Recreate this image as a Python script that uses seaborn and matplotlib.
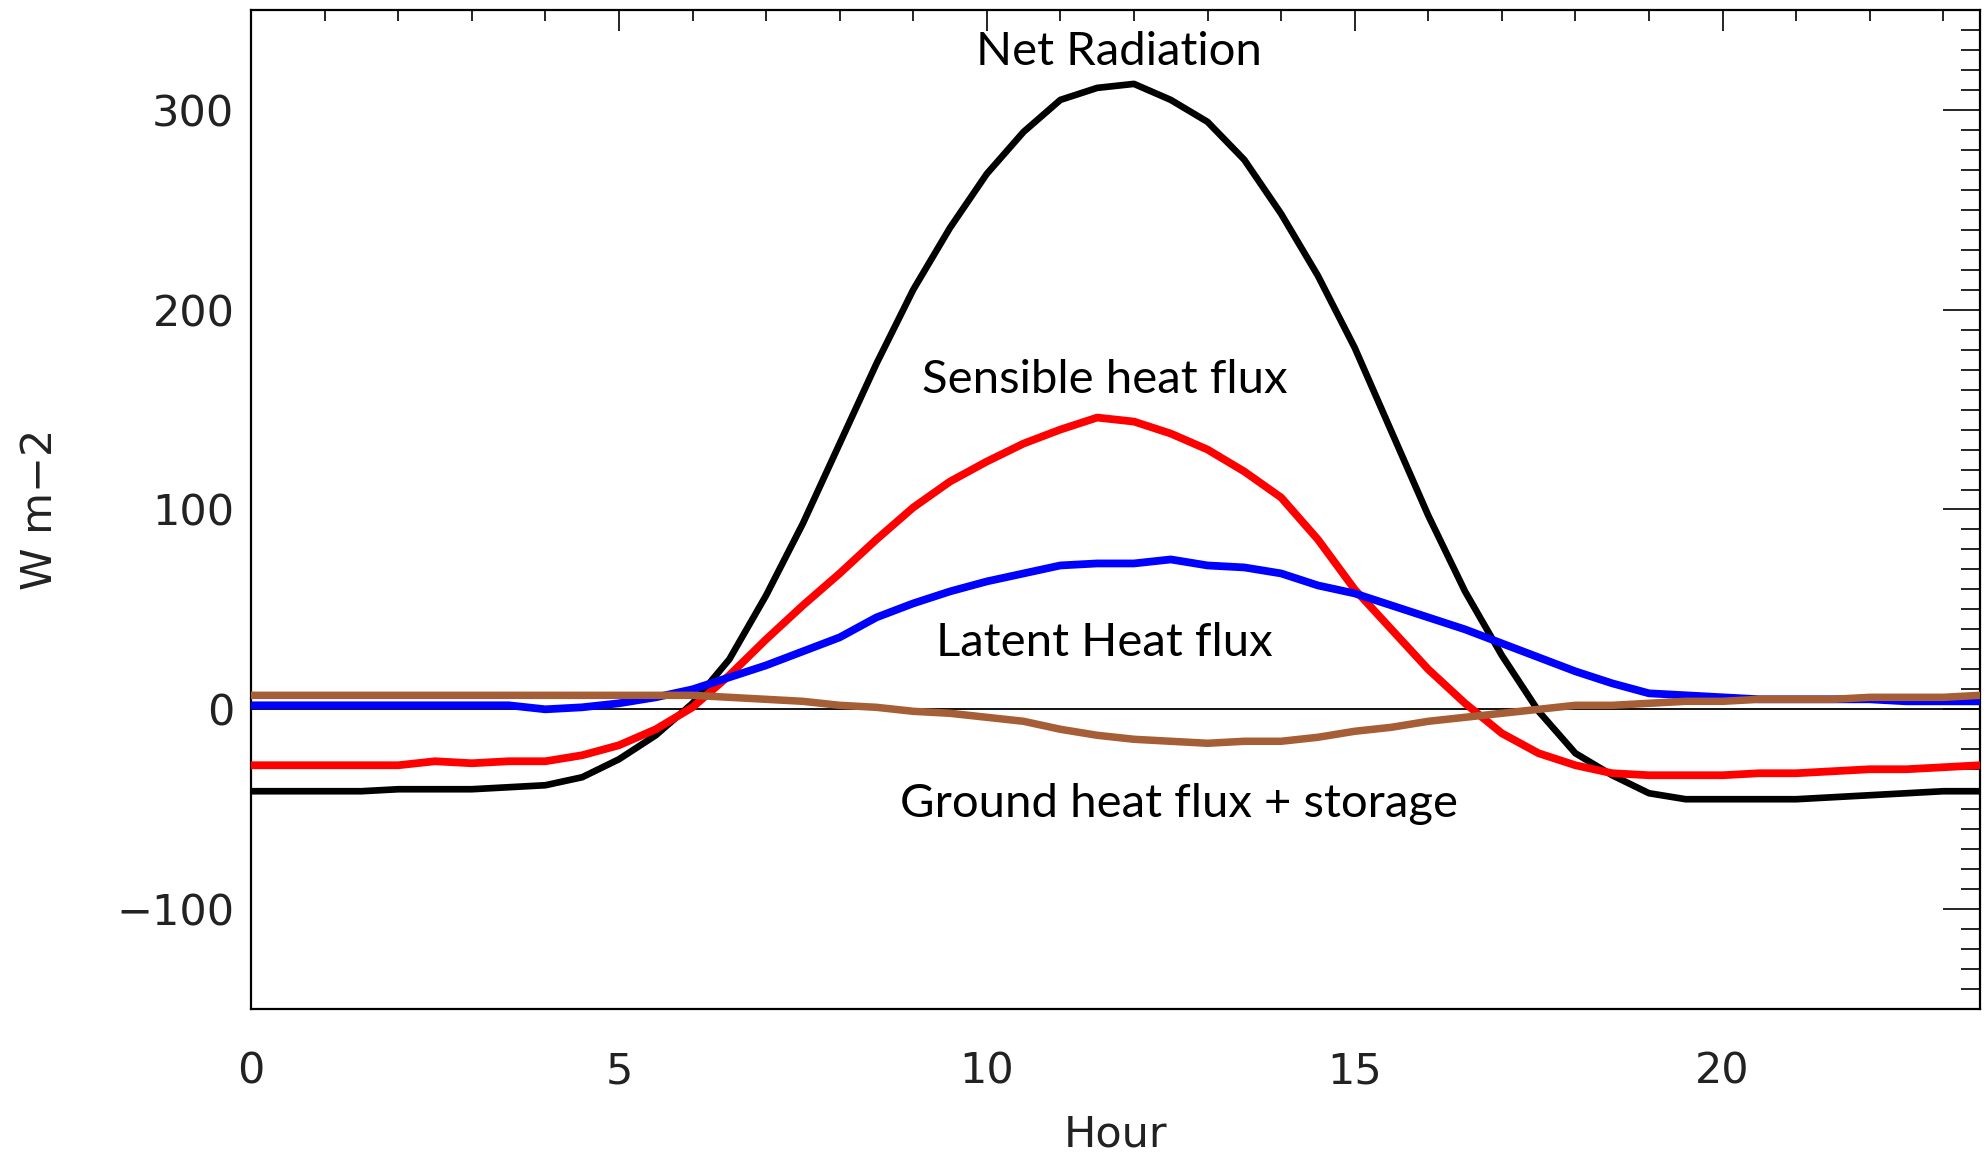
import numpy as np
import pandas as pd
import matplotlib
matplotlib.use("Agg")
import matplotlib.pyplot as plt
from matplotlib.ticker import MultipleLocator
import seaborn as sns

# ---- data (half-hourly) ----
hours = [h * 0.5 for h in range(48)]

net_radiation = [-41, -41, -41, -41, -40, -40, -40, -39, -38, -34,
                 -25, -13, 3, 25, 57, 93, 133, 173, 210, 241,
                 268, 289, 305, 311, 313, 305, 294, 275, 248, 217,
                 181, 139, 97, 59, 27, -1, -22, -33, -42, -45,
                 -45, -45, -45, -44, -43, -42, -41, -41]

sensible_heat = [-28, -28, -28, -28, -28, -26, -27, -26, -26, -23,
                 -18, -10, 1, 17, 35, 52, 68, 85, 101, 114,
                 124, 133, 140, 146, 144, 138, 130, 119, 106, 85,
                 60, 40, 20, 3, -12, -22, -28, -32, -33, -33,
                 -33, -32, -32, -31, -30, -30, -29, -28]

latent_heat = [2, 2, 2, 2, 2, 2, 2, 2, 0, 1,
               3, 6, 10, 16, 22, 29, 36, 46, 53, 59,
               64, 68, 72, 73, 73, 75, 72, 71, 68, 62,
               58, 52, 46, 40, 33, 26, 19, 13, 8, 7,
               6, 5, 5, 5, 5, 4, 4, 4]

ground_heat = [7, 7, 7, 7, 7, 7, 7, 7, 7, 7,
               7, 7, 7, 6, 5, 4, 2, 1, -1, -2,
               -4, -6, -10, -13, -15, -16, -17, -16, -16, -14,
               -11, -9, -6, -4, -2, 0, 2, 2, 3, 4,
               4, 5, 5, 5, 6, 6, 6, 7]

series_names = ["Net Radiation", "Sensible heat flux", "Latent Heat flux",
                "Ground heat flux + storage"]
series_values = [net_radiation, sensible_heat, latent_heat, ground_heat]
series_colors = ["#000000", "#ff0000", "#0000ff", "#a65e36"]
series_widths = [4.8, 5.6, 5.6, 5.4]

# annotation positions (hour, W m-2)
label_x = [11.79, 11.6, 11.6, 12.61]
label_y = [329, 165, 33, -47.5]

x_ticks = [0, 5, 10, 15, 20]
y_ticks = [-100, 0, 100, 200, 300]

sns.set_theme(style="white")
plt.rcParams["font.family"] = ["DejaVu Sans"]

fig = plt.figure(figsize=(19.88, 11.59), dpi=100)
ax = fig.add_axes([0.1263, 0.1294, 0.996 - 0.1263, 0.9914 - 0.1294])

ax.axhline(0, color="black", lw=1.3, zorder=1)

for name, vals, col, lw in zip(series_names, series_values, series_colors, series_widths):
    d = pd.DataFrame({"Hour": hours, "Flux": vals})
    sns.lineplot(data=d, x="Hour", y="Flux", color=col, linewidth=lw,
                 ax=ax, zorder=3)

ax.set_xlim(0, 23.5)
ax.set_ylim(-150, 350)
ax.set_xticks(x_ticks)
ax.set_yticks(y_ticks)
ax.set_yticklabels(["\u2212100", "0", "100", "200", "300"])
ax.xaxis.set_minor_locator(MultipleLocator(1))
ax.yaxis.set_minor_locator(MultipleLocator(10))

ax.tick_params(axis="both", which="both", direction="in", top=True, right=True,
               color="black", width=1.2, labelcolor="#222222")
ax.tick_params(axis="x", which="major", length=15, pad=30, labelsize=31)
ax.tick_params(axis="x", which="minor", length=8)
ax.tick_params(axis="y", which="major", length=26.5, pad=12, labelsize=31)
ax.tick_params(axis="y", which="minor", length=13.5)

for sp in ax.spines.values():
    sp.set_color("black")
    sp.set_linewidth(1.6)

ax.set_xlabel("Hour", fontsize=31, color="#222222", labelpad=15)
ax.set_ylabel("W m\u22122", fontsize=31, color="#222222", labelpad=40)
ax.grid(False)

for name, lx, ly in zip(series_names, label_x, label_y):
    ax.text(lx, ly, name, ha="center", va="center", fontsize=34,
            family=["Lato", "DejaVu Sans"], color="black", zorder=4)

fig.savefig("out.png", dpi=100, facecolor="white")
